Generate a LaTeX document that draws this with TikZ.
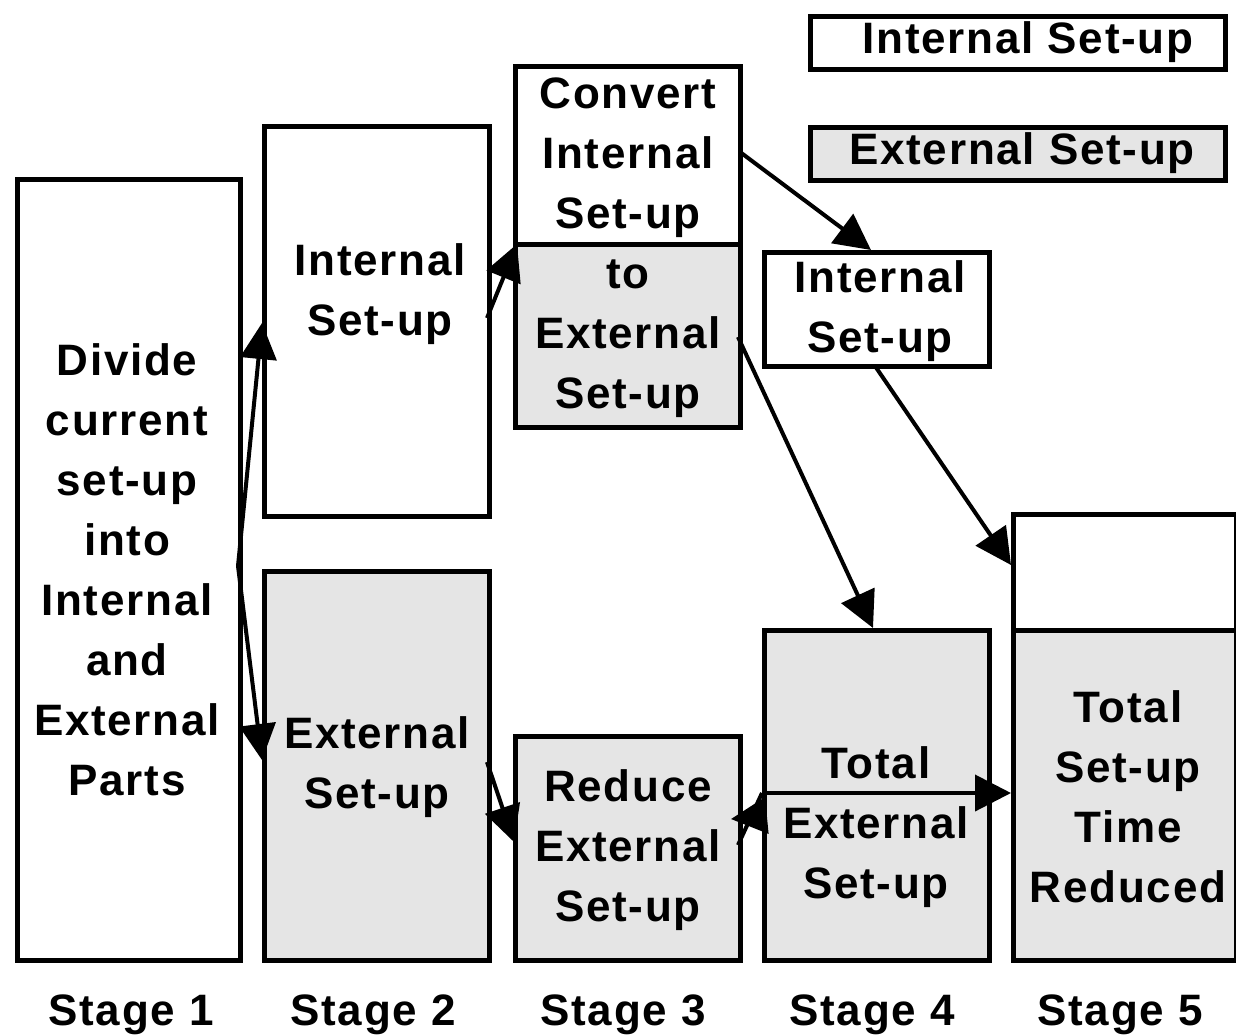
\documentclass[tikz,border=0pt]{standalone}
\usepackage{fontspec}
\newfontfamily\diag[LetterSpace=4]{Liberation Sans}
\usetikzlibrary{arrows.meta}
\definecolor{boxgray}{HTML}{E5E5E5}
\begin{document}
\begin{tikzpicture}[x=1pt,y=-1pt,
  every node/.style={font=\diag\bfseries\fontsize{44}{60}\selectfont},
  wbox/.style={draw=black,line width=4.5pt,fill=white,inner sep=0pt,anchor=north west},
  gbox/.style={draw=black,line width=4.5pt,fill=boxgray,inner sep=0pt,anchor=north west},
  txt/.style={align=center,inner sep=0pt},
  arr/.style={line width=4pt,-{Triangle[length=36pt,width=36pt]}},
  plain/.style={line width=4pt}]
\useasboundingbox (0,0) rectangle (1236,1034);
% legend
\node[wbox,minimum width=415pt,minimum height=53pt] (li) at (808,14) {};
\node[gbox,minimum width=415pt,minimum height=53pt] (le) at (808,125) {};
\node[txt] (lit) at (1028,42) {Internal Set-up};
\node[txt] (let) at (1022,153) {External Set-up};
% stage 1
\node[wbox,minimum width=223pt,minimum height=781pt] (s1) at (15,177) {};
\node[txt] (s1t) at (127,570) {Divide\\current\\set-up\\into\\Internal\\and\\External\\Parts};
% stage 2
\node[wbox,minimum width=225pt,minimum height=390pt] (s2i) at (262,124) {};
\node[gbox,minimum width=225pt,minimum height=389pt] (s2e) at (262,569) {};
\node[txt] (s2it) at (380,294) {Internal\\Set-up};
\node[txt] (s2et) at (377,767) {External\\Set-up};
% stage 3
\node[wbox,minimum width=225pt,minimum height=178pt] (s3a) at (513,64) {};
\node[gbox,minimum width=225pt,minimum height=183pt] (s3b) at (513,242) {};
\node[gbox,minimum width=225pt,minimum height=224pt] (s3r) at (513,734) {};
\node[txt] (s3t) at (628,248) {Convert\\Internal\\Set-up\\to\\External\\Set-up};
\node[txt] (s3rt) at (628,850) {Reduce\\External\\Set-up};
% stage 4
\node[wbox,minimum width=225pt,minimum height=114pt] (s4i) at (762,250) {};
\node[gbox,minimum width=225pt,minimum height=330pt] (s4e) at (762,628) {};
\node[txt] (s4it) at (880,311) {Internal\\Set-up};
\node[txt] (s4et) at (876,827) {Total\\External\\Set-up};
% stage 5
\node[wbox,minimum width=223pt,minimum height=116pt] (s5a) at (1011,512) {};
\node[gbox,minimum width=223pt,minimum height=330pt] (s5b) at (1011,628) {};
\node[txt] (s5t) at (1128,797) {Total\\Set-up\\Time\\Reduced};
% stage labels
\node[txt] (l1) at (131,1015) {Stage 1};
\node[txt] (l2) at (373,1015) {Stage 2};
\node[txt] (l3) at (623,1015) {Stage 3};
\node[txt] (l4) at (872,1015) {Stage 4};
\node[txt] (l5) at (1120,1015) {Stage 5};
% connectors
\coordinate (c1) at (238,566);
\draw[arr] (c1) -- (s2i.west |- 0,323);
\draw[arr] (c1) -- (s2e.west |- 0,760);
\draw[arr] (487,318) -- (517,244);
\draw[arr] (487,762) -- (514,842);
\coordinate (c5) at (762,793);
\draw[plain] (738,845) -- (c5);
\draw[arr] (c5) -- (s5b.west |- c5);
\draw[arr] (762,816) -- (731,819);
\draw[arr] (740,152) -- (s4i.north -| 871,0);
\draw[arr] (738,337) -- (s4e.north -| 873,0);
\draw[arr] (875,366) -- (s5a.west |- 0,565);
\end{tikzpicture}
\end{document}
